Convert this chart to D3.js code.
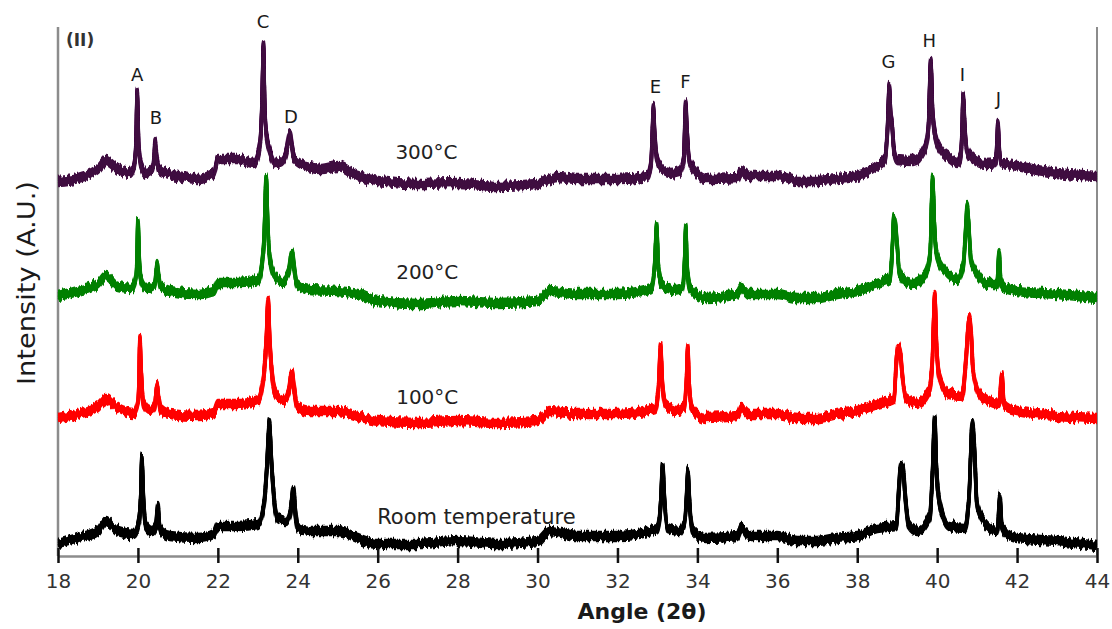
<!DOCTYPE html>
<html>
<head>
<meta charset="utf-8">
<script src="https://cdn.jsdelivr.net/npm/d3@7"></script>
<style>
  body { margin: 0; background: #fff; }
  svg text { font-family: "DejaVu Sans", Verdana, sans-serif; }
</style>
</head>
<body>
<div id="chart"></div>
<script>
// x ticks (2 theta)
const xTicks = [18, 20, 22, 24, 26, 28, 30, 32, 34, 36, 38, 40, 42, 44];

// traces, [angle, intensity (A.U.)]
const trace300 = [
  [18,375],[18.5,378],[19,387],[19.2,395],[19.5,387],[19.8,383],[19.9,390],[19.95,410],[19.98,463],
  [20.02,412],[20.08,390],[20.2,383],[20.36,387],[20.41,402],[20.43,414],[20.46,402],[20.52,387],[20.7,383],
  [21,380],[21.5,377],[21.9,383],[22.0,397],[22.5,397],[22.9,393],[23.0,400],[23.07,420],[23.11,460],
  [23.14,511],[23.17,455],[23.22,420],[23.3,405],[23.45,393],[23.6,395],[23.72,405],[23.78,420],[23.81,422],
  [23.85,410],[23.92,397],[24.2,390],[24.6,387],[25,390],[25.5,380],[26,375],[27,372],[28,373],[29,370],
  [30,372],[30.5,379],[31,377],[32,377],[32.75,380],[32.84,392],[32.88,430],[32.9,449],[32.93,425],
  [32.98,398],[33.1,388],[33.3,383],[33.55,385],[33.66,397],[33.69,435],[33.71,453],[33.74,425],[33.8,395],
  [33.95,385],[34.2,377],[35,378],[35.1,385],[35.3,380],[36,380],[36.5,375],[37,375],[37.5,377],[38,380],
  [38.5,390],[38.7,397],[38.76,430],[38.8,469],[38.84,440],[38.87,432],[38.92,405],[39,396],[39.4,395],
  [39.7,408],[39.78,428],[39.84,495],[39.88,450],[39.95,420],[40.1,405],[40.3,398],[40.5,393],[40.58,398],
  [40.62,420],[40.65,460],[40.69,430],[40.75,405],[40.9,397],[41.2,392],[41.46,393],[41.5,415],[41.52,433],
  [41.55,410],[41.6,394],[42,390],[43,383],[44,380]
];
const trace200 = [
  [18,260],[18.5,265],[19,272],[19.2,280],[19.5,270],[19.85,268],[19.95,278],[19.98,300],[20.0,335],
  [20.03,300],[20.08,275],[20.2,268],[20.42,272],[20.46,285],[20.48,292],[20.51,282],[20.56,270],[20.8,265],
  [21.5,262],[21.9,265],[22.0,273],[22.5,273],[23.0,276],[23.1,290],[23.16,320],[23.21,377],[23.25,330],
  [23.3,298],[23.4,282],[23.6,275],[23.78,285],[23.83,300],[23.86,303],[23.9,290],[23.98,272],[24.3,266],
  [25,265],[25.5,262],[26,255],[27,252],[28,255],[29,253],[30,255],[30.3,265],[31,262],[32,262],
  [32.85,268],[32.93,290],[32.98,330],[33.02,290],[33.1,272],[33.4,266],[33.62,268],[33.68,295],[33.71,328],
  [33.74,290],[33.82,268],[34.2,258],[35,262],[35.1,268],[35.3,262],[36,262],[36.5,258],[37,258],
  [37.5,262],[38,265],[38.5,272],[38.82,277],[38.88,310],[38.92,338],[38.96,330],[39.0,310],[39.05,285],
  [39.2,275],[39.4,273],[39.7,282],[39.82,300],[39.89,377],[39.93,330],[40.0,300],[40.2,285],[40.5,277],
  [40.65,290],[40.72,330],[40.75,350],[40.79,330],[40.85,295],[41.0,282],[41.3,272],[41.5,272],[41.55,303],
  [41.59,275],[41.7,268],[42,265],[43,262],[44,258]
];
const trace100 = [
  [18,138],[18.5,142],[19,150],[19.2,157],[19.5,148],[19.9,143],[20.0,153],[20.03,180],[20.05,217],
  [20.08,185],[20.14,152],[20.3,145],[20.42,150],[20.46,165],[20.48,170],[20.51,160],[20.57,147],[20.8,142],
  [21.5,140],[21.9,143],[22.0,152],[22.5,152],[23.0,156],[23.12,172],[23.2,205],[23.26,255],[23.3,215],
  [23.36,180],[23.45,162],[23.65,156],[23.78,165],[23.83,180],[23.86,183],[23.9,170],[23.98,150],[24.3,145],
  [25,145],[25.5,140],[26,135],[27,133],[28,135],[29,133],[30,135],[30.3,145],[31,142],[32,142],
  [32.95,148],[33.03,170],[33.08,210],[33.12,175],[33.2,152],[33.5,146],[33.68,150],[33.73,180],[33.76,208],
  [33.79,175],[33.87,147],[34.2,138],[35,140],[35.1,148],[35.3,142],[36,142],[36.5,138],[37,138],
  [37.5,142],[38,145],[38.5,152],[38.92,157],[38.98,195],[39.02,208],[39.08,202],[39.13,180],[39.22,158],
  [39.5,153],[39.8,165],[39.88,195],[39.94,260],[39.98,215],[40.05,180],[40.3,162],[40.62,160],[40.72,195],
  [40.8,238],[40.85,222],[40.9,185],[41.05,163],[41.3,155],[41.55,152],[41.62,180],[41.67,152],[41.8,147],
  [42,145],[43,140],[44,138]
];
const traceRT = [
  [18,12],[18.5,18],[19,25],[19.2,35],[19.5,25],[19.9,22],[20.03,35],[20.07,60],[20.1,98],[20.13,65],
  [20.2,30],[20.35,25],[20.45,30],[20.5,50],[20.54,30],[20.6,24],[20.8,20],[21.5,18],[21.9,22],[22.0,30],
  [22.5,30],[23.0,32],[23.15,50],[23.23,90],[23.29,133],[23.34,95],[23.4,60],[23.5,38],[23.7,35],[23.82,45],
  [23.89,65],[23.94,45],[24.0,28],[24.3,25],[25,25],[25.5,18],[26,12],[27,12],[28,15],[29,12],[30,15],
  [30.3,25],[31,20],[32,20],[33.0,27],[33.08,50],[33.13,90],[33.17,60],[33.25,28],[33.55,25],[33.68,35],
  [33.73,60],[33.76,85],[33.8,55],[33.88,26],[34.2,18],[35,20],[35.1,28],[35.3,20],[36,20],[36.5,15],
  [37,15],[37.5,18],[38,20],[38.5,28],[38.98,30],[39.04,65],[39.09,90],[39.15,87],[39.2,60],[39.28,32],
  [39.5,25],[39.82,40],[39.88,80],[39.94,138],[39.98,90],[40.05,55],[40.3,30],[40.7,28],[40.8,60],
  [40.88,132],[40.93,110],[41.0,50],[41.15,35],[41.5,25],[41.57,58],[41.62,30],[41.75,22],[42,18],
  [43,15],[44,10]
];

const traces = [traceRT, trace100, trace200, trace300];
const traceColors = ["#000000", "#ff0000", "#008000", "#3f0840"];

// temperature labels [text, angle, intensity]
const tempLabels = [
  ["Room temperature", 28.47, 38],
  ["100°C", 27.24, 158],
  ["200°C", 27.24, 283],
  ["300°C", 27.22, 403]
];

// peak letters [letter, angle, intensity]
const peakLabels = [
  ["A", 19.98, 480], ["B", 20.45, 437], ["C", 23.13, 533], ["D", 23.83, 438],
  ["E", 32.95, 468], ["F", 33.7, 473], ["G", 38.78, 493], ["H", 39.8, 514],
  ["I", 40.63, 480], ["J", 41.53, 456]
];

const width = 1112, height = 629;
const m = { left: 58, right: 1097, top: 27, bottom: 556 };

const svg = d3.select("#chart").append("svg")
  .attr("width", width).attr("height", height);

// grainy look of the measured signal: shift pixels up/down only
const flt = svg.append("defs").append("filter")
  .attr("id", "grain")
  .attr("x", "-2%").attr("y", "-20%").attr("width", "104%").attr("height", "140%");
flt.append("feTurbulence")
  .attr("type", "fractalNoise").attr("baseFrequency", "0.45 0.03")
  .attr("numOctaves", 2).attr("seed", 3).attr("result", "noise");
flt.append("feColorMatrix")
  .attr("in", "noise").attr("type", "matrix")
  .attr("values", "0 0 0 0 0.5  0 1 0 0 0  0 0 1 0 0  0 0 0 0 1")
  .attr("result", "noiseY");
flt.append("feDisplacementMap")
  .attr("in", "SourceGraphic").attr("in2", "noiseY")
  .attr("scale", 9).attr("xChannelSelector", "R").attr("yChannelSelector", "G");

const x = d3.scaleLinear().domain([18, 44]).range([m.left, m.right]);
const y = d3.scaleLinear().domain([0, 529]).range([m.bottom, m.top]);

// frame lines
svg.append("line")
  .attr("x1", m.left).attr("x2", m.left).attr("y1", m.top).attr("y2", m.bottom)
  .attr("stroke", "#8c8c8c").attr("stroke-width", 2.5);
svg.append("line")
  .attr("x1", m.right).attr("x2", m.right).attr("y1", m.top).attr("y2", m.bottom)
  .attr("stroke", "#8c8c8c").attr("stroke-width", 2);

const line = d3.line()
  .curve(d3.curveMonotoneX)
  .x(d => x(d[0]))
  .y(d => y(d[1]));

// each trace is stroked a few times, shifted vertically, so the flat
// parts form a thick band while the peaks stay thin
const bandShifts = [-3.5, -1.75, 0, 1.75, 3.5];

const traceG = svg.selectAll("g.trace")
  .data(traces)
  .enter()
  .append("g")
    .attr("class", "trace")
    .attr("filter", "url(#grain)");

traceG.each(function (d, i) {
  d3.select(this).selectAll("path")
    .data(bandShifts)
    .enter()
    .append("path")
      .attr("transform", s => `translate(0,${s})`)
      .attr("d", line(d))
      .attr("fill", "none")
      .attr("stroke", traceColors[i])
      .attr("stroke-width", 3.5)
      .attr("stroke-linejoin", "round");
});

// x axis
const xAxis = svg.append("g")
  .attr("transform", `translate(0,${m.bottom})`)
  .call(d3.axisBottom(x).tickValues(xTicks).tickSize(7).tickSizeOuter(0));
xAxis.select(".domain").attr("stroke", "#8c8c8c").attr("stroke-width", 2.5);
xAxis.selectAll(".tick line")
  .attr("y1", -8).attr("y2", 7)
  .attr("stroke", "#111").attr("stroke-width", 2.5);
xAxis.selectAll(".tick text")
  .attr("y", 25).attr("dy", "0.35em")
  .attr("fill", "#333")
  .style("font-size", "20px");

svg.append("text")
  .attr("x", 642).attr("y", 613)
  .attr("text-anchor", "middle").attr("dominant-baseline", "middle")
  .style("font-size", "22px").style("font-weight", "bold").attr("fill", "#1a1a1a")
  .text("Angle (2θ)");

svg.append("text")
  .attr("transform", "translate(28,283) rotate(-90)")
  .attr("text-anchor", "middle").attr("dominant-baseline", "middle")
  .attr("textLength", 204).attr("lengthAdjust", "spacingAndGlyphs")
  .style("font-size", "24px").attr("fill", "#1a1a1a")
  .text("Intensity (A.U.)");

svg.append("text")
  .attr("x", 66).attr("y", 41)
  .attr("dominant-baseline", "middle")
  .style("font-size", "17px").style("font-weight", "bold").attr("fill", "#333")
  .text("(II)");

svg.selectAll("text.temp")
  .data(tempLabels)
  .enter()
  .append("text")
    .attr("class", "temp")
    .attr("x", d => x(d[1])).attr("y", d => y(d[2]))
    .attr("text-anchor", "middle").attr("dominant-baseline", "middle")
    .style("font-size", (d, i) => i === 0 ? "21px" : "20px").attr("fill", "#222")
    .text(d => d[0]);

svg.selectAll("text.peak")
  .data(peakLabels)
  .enter()
  .append("text")
    .attr("class", "peak")
    .attr("x", d => x(d[1])).attr("y", d => y(d[2]))
    .attr("text-anchor", "middle").attr("dominant-baseline", "middle")
    .style("font-size", "18px").attr("fill", "#1a1a1a")
    .text(d => d[0]);
</script>
</body>
</html>
